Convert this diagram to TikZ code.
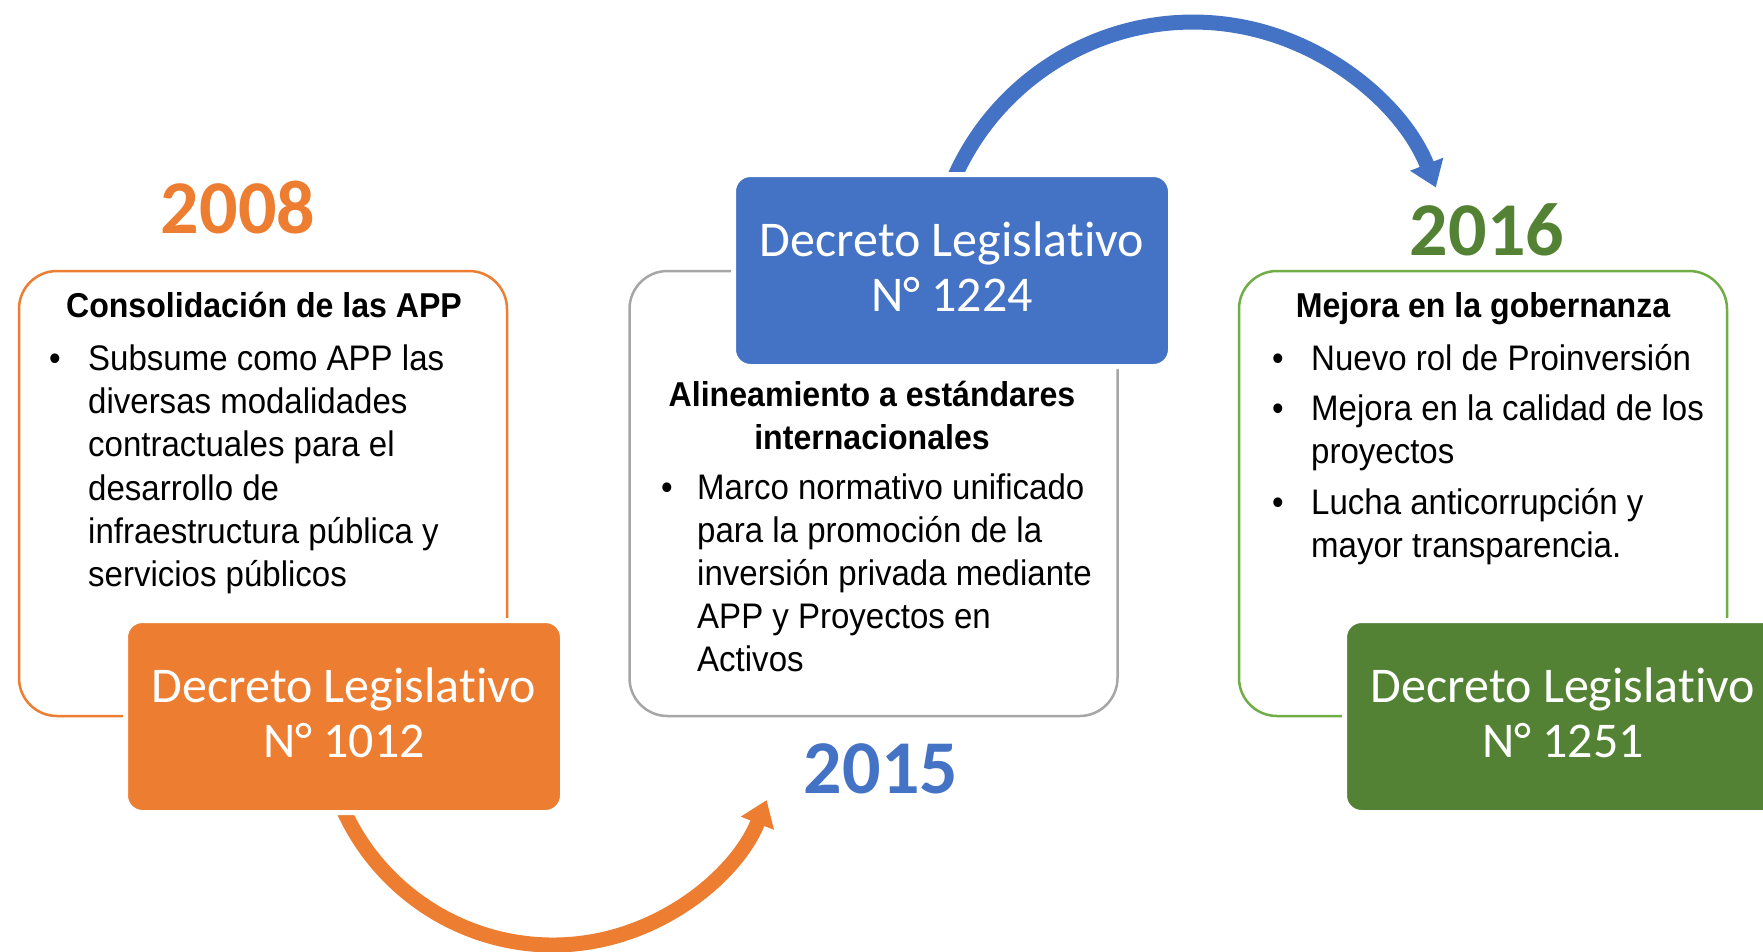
\documentclass[tikz,border=0pt]{standalone}
\usepackage{fontspec}
\setmainfont{Liberation Sans}[FakeStretch=0.93]
\newfontfamily\calib{Carlito}[Ligatures=NoCommon]
\usetikzlibrary{arrows.meta}
\definecolor{corange}{HTML}{ED7D31}
\definecolor{cblue}{HTML}{4472C4}
\definecolor{cgreen}{HTML}{548235}
\definecolor{clgreen}{HTML}{70AD47}
\definecolor{cgray}{HTML}{A6A6A6}
\begin{document}
\begin{tikzpicture}[x=1pt,y=1pt,
  outl/.style={line width=2.5pt, rounded corners=38pt, minimum width=488pt, minimum height=445pt, inner sep=0pt},
  decbox/.style={draw=white, line width=5pt, rounded corners=17pt, minimum width=437pt, minimum height=192pt},
  dtext/.style={align=center, text=white, inner sep=0pt, font=\calib\fontsize{50}{55}\selectfont},
  body/.style={font=\fontsize{35.5}{43}\selectfont, anchor=base west, inner sep=0pt},
  bul/.style={font=\fontsize{35.5}{43}\selectfont, anchor=base, inner sep=0pt},
  ttl/.style={font=\bfseries\fontsize{34.5}{40}\selectfont, anchor=base, inner sep=0pt},
  yr/.style={font=\calib\bfseries\fontsize{76}{80}\selectfont, anchor=base, inner sep=0pt},
  bigarrow/.style={line width=15pt, -{Triangle[length=25pt,width=34pt]}}
]
\useasboundingbox (0,0) rectangle (1763,-951);
\clip (0,0) rectangle (1763,-951);

% outline cards
\node (card1) [outl, draw=corange] at (263,-493.5) {};
\node (card2) [outl, draw=cgray] at (873.5,-493.5) {};
\node (card3) [outl, draw=clgreen] at (1483,-493.5) {};

% arrows
\coordinate (oa) at (330.8,-774.5);
\draw[bigarrow, corange] (oa) arc[start angle=195, end angle=338.3, radius=230];
\coordinate (ba) at (943.4,-206.8);
\draw[bigarrow, cblue] (ba) arc[start angle=163, end angle=21.5, radius=261];

% decree boxes
\node (dec1) [decbox, fill=corange] at (344,-716.5) {};
\node (dec1t) [dtext] at ([yshift=3.5pt]dec1.center) {Decreto Legislativo\\N° 1012};
\node (dec2) [decbox, fill=cblue] at (952,-270.5) {};
\node (dec2t) [dtext] at ([yshift=3.5pt]dec2.center) {Decreto Legislativo\\N° 1224};
\node (dec3) [decbox, fill=cgreen] at (1563,-716.5) {};
\node (dec3t) [dtext] at ([yshift=3.5pt]dec3.center) {Decreto Legislativo\\N° 1251};

% years
\node (y1) [yr, text=corange] at (238,-233) {2008};
\node (y2) [yr, text=cblue] at (881,-793) {2015};
\node (y3) [yr, text=cgreen] at (1487,-255) {2016};

% left card text
\node (t1) [ttl] at (264,-317) {Consolidación de las APP};
\node (b11) [bul] at (55,-370) {•};
\node (l11) [body] at (88,-370) {Subsume como APP las};
\node (l12) [body] at (88,-413) {diversas modalidades};
\node (l13) [body] at (88,-456) {contractuales para el};
\node (l14) [body] at (88,-500) {desarrollo de};
\node (l15) [body] at (88,-543) {infraestructura pública y};
\node (l16) [body] at (88,-586) {servicios públicos};

% middle card text
\node (t2a) [ttl] at (872,-406) {Alineamiento a estándares};
\node (t2b) [ttl] at (872,-449) {internacionales};
\node (b21) [bul] at (667,-499.5) {•};
\node (l21) [body] at (697,-499.5) {Marco normativo unificado};
\node (l22) [body] at (697,-542.5) {para la promoción de la};
\node (l23) [body] at (697,-585.5) {inversión privada mediante};
\node (l24) [body] at (697,-628.5) {APP y Proyectos en};
\node (l25) [body] at (697,-671.5) {Activos};

% right card text
\node (t3) [ttl] at (1483,-317) {Mejora en la gobernanza};
\node (b31) [bul] at (1278,-370) {•};
\node (l31) [body] at (1311,-370) {Nuevo rol de Proinversión};
\node (b32) [bul] at (1278,-420) {•};
\node (l32) [body] at (1311,-420) {Mejora en la calidad de los};
\node (l33) [body] at (1311,-463) {proyectos};
\node (b33) [bul] at (1278,-514) {•};
\node (l34) [body] at (1311,-514) {Lucha anticorrupción y};
\node (l35) [body] at (1311,-557) {mayor transparencia.};
\end{tikzpicture}
\end{document}
